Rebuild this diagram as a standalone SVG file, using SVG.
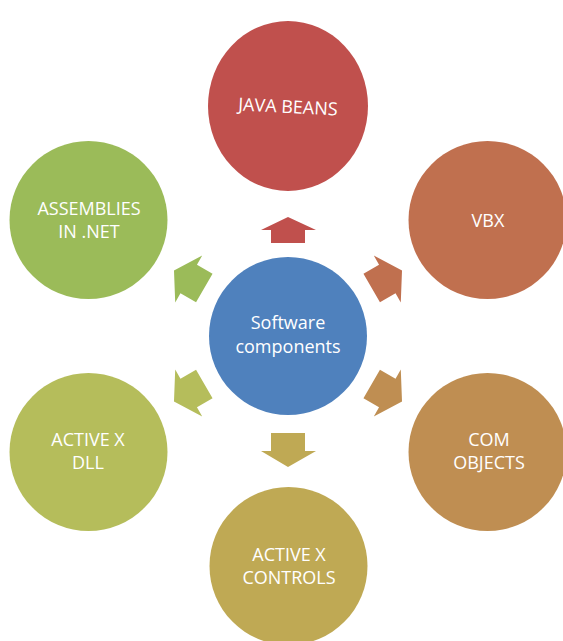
<svg xmlns="http://www.w3.org/2000/svg" width="563" height="641" viewBox="0 0 563 641">
<style>
text{font-family:"Open Sans","Noto Sans","Liberation Sans",sans-serif;font-size:18px;fill:#ffffff;text-anchor:middle}
</style>
<defs>
<polygon id="darr" points="0,-16.5 18,-16.5 18,-27 35,0 18,27 18,16.5 0,16.5"/>
</defs>
<rect width="563" height="641" fill="#ffffff"/>
<g id="connectors">
<polygon fill="#C0504D" points="288,217 316,230 305,230 305,243 271,243 271,230 261,230"/>
<polygon fill="#BFA954" points="271,433 305,433 305,451 316,451 288,467 261,451 271,451"/>
<use href="#darr" fill="#9BBB59" transform="translate(204.3,288) rotate(210)"/>
<use href="#darr" fill="#C0704F" transform="translate(371.7,288) rotate(-30)"/>
<use href="#darr" fill="#B5BD5B" transform="translate(204.3,384) rotate(150)"/>
<use href="#darr" fill="#BF8E52" transform="translate(371.7,384) rotate(30)"/>
</g>
<g id="center">
<circle cx="288" cy="336" r="79" fill="#4F81BD"/>
<text x="288" y="329">Software</text>
<text x="288" y="353">components</text>
</g>
<g id="javabeans">
<ellipse cx="288" cy="106" rx="80" ry="85" fill="#C0504D"/>
<text x="288" y="113" transform="rotate(3 288 107)">JAVA BEANS</text>
</g>
<g id="vbx">
<circle cx="487.5" cy="220" r="79" fill="#C0704F"/>
<text x="488" y="227">VBX</text>
</g>
<g id="com">
<circle cx="487.5" cy="452" r="79" fill="#BF8E52"/>
<text x="489" y="446">COM</text>
<text x="489" y="469">OBJECTS</text>
</g>
<g id="activexcontrols">
<circle cx="288.5" cy="566" r="79" fill="#BFA954"/>
<text x="289" y="561">ACTIVE X</text>
<text x="289" y="584">CONTROLS</text>
</g>
<g id="activexdll">
<circle cx="88.5" cy="452" r="79" fill="#B5BD5B"/>
<text x="88" y="446">ACTIVE X</text>
<text x="88" y="469">DLL</text>
</g>
<g id="assemblies">
<circle cx="88.5" cy="220" r="79" fill="#9BBB59"/>
<text x="89" y="215">ASSEMBLIES</text>
<text x="89" y="238">IN .NET</text>
</g>
</svg>
